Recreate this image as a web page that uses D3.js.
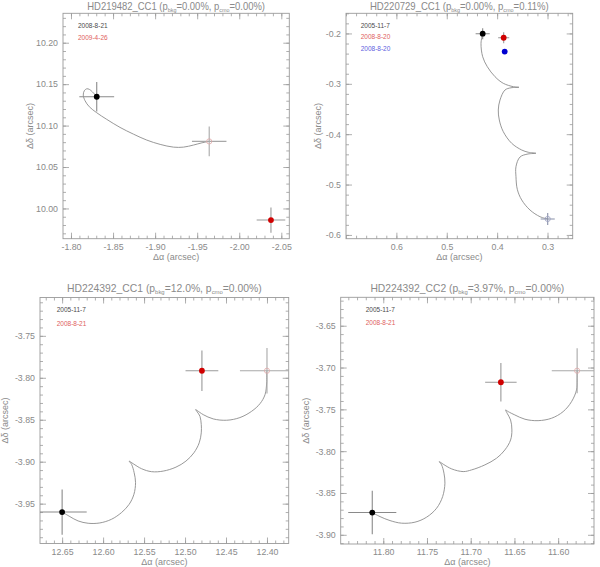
<!DOCTYPE html>
<html><head><meta charset="utf-8">
<script src="https://cdn.jsdelivr.net/npm/d3@7"></script>
<style>body{margin:0;background:#fff}svg{display:block}</style>
</head><body>
<svg id="c" width="600" height="567"></svg>
<script>
// ---------------- DATA ----------------
// Panel 1: HD219482_CC1
const p1Name = "HD219482_CC1", p1Pbkg = "0.00%", p1Pcmo = "0.00%";
const p1Dates = ["2008-8-21", "2009-4-26"];
const p1XTicks = [-1.80, -1.85, -1.90, -1.95, -2.00, -2.05];
const p1XLabels = ["-1.80", "-1.85", "-1.90", "-1.95", "-2.00", "-2.05"];
const p1YTicks = [10.00, 10.05, 10.10, 10.15, 10.20];
const p1YLabels = ["10.00", "10.05", "10.10", "10.15", "10.20"];
const p1Obs = [
  {s: "first",  x: -1.8306, y: 10.1348, ex: 0.0207, ey: 0.0177},
  {s: "pred",   x: -1.9643, y: 10.0809, ex: 0.0205, ey: 0.0180},
  {s: "second", x: -2.0377, y: 9.9860,  ex: 0.0170, ey: 0.0153}
];
const p1Track = [
  [-1.8306,10.1348],[-1.8265,10.1396],[-1.8218,10.1437],[-1.8187,10.1444],[-1.8158,10.1420],
  [-1.8146,10.1368],[-1.8167,10.1300],[-1.8218,10.1227],[-1.8306,10.1155],[-1.8425,10.1075],
  [-1.8583,10.0978],[-1.8742,10.0897],[-1.8901,10.0825],[-1.9060,10.0773],[-1.9218,10.0740],
  [-1.9337,10.0740],[-1.9456,10.0765],[-1.9556,10.0792],[-1.9643,10.0809]
];

// Panel 2: HD220729_CC1
const p2Name = "HD220729_CC1", p2Pbkg = "0.00%", p2Pcmo = "0.11%";
const p2Dates = ["2005-11-7", "2008-8-20", "2008-8-20"];
const p2XTicks = [0.6, 0.5, 0.4, 0.3];
const p2XLabels = ["0.6", "0.5", "0.4", "0.3"];
const p2YTicks = [-0.2, -0.3, -0.4, -0.5, -0.6];
const p2YLabels = ["-0.2", "-0.3", "-0.4", "-0.5", "-0.6"];
const p2Obs = [
  {s: "pred2",  x: 0.2996, y: -0.5683, ex: 0.014, ey: 0.012},
  {s: "first",  x: 0.4287, y: -0.2005, ex: 0.014, ey: 0.011},
  {s: "second", x: 0.3870, y: -0.2085, ex: 0.011, ey: 0.011},
  {s: "third",  x: 0.3850, y: -0.2360, ex: 0,     ey: 0}
];
const p2Track = [
  [0.4287,-0.2005],[0.4320,-0.2196],[0.4287,-0.2462],[0.4195,-0.2660],[0.4042,-0.2859],
  [0.3878,-0.2990],[0.3679,-0.3057],[0.3566,-0.3069],[0.3725,-0.3079],[0.3844,-0.3123],
  [0.3943,-0.3321],[0.3977,-0.3520],[0.3957,-0.3718],[0.3878,-0.3950],[0.3711,-0.4181],
  [0.3512,-0.4314],[0.3381,-0.4359],[0.3229,-0.4379],[0.3387,-0.4393],[0.3546,-0.4453],
  [0.3626,-0.4645],[0.3626,-0.4844],[0.3600,-0.5094],[0.3512,-0.5306],[0.3348,-0.5505],
  [0.3149,-0.5638],[0.2996,-0.5683]
];

// Panel 3: HD224392_CC1
const p3Name = "HD224392_CC1", p3Pbkg = "12.0%", p3Pcmo = "0.00%";
const p3Dates = ["2005-11-7", "2008-8-21"];
const p3XTicks = [12.65, 12.60, 12.55, 12.50, 12.45, 12.40];
const p3XLabels = ["12.65", "12.60", "12.55", "12.50", "12.45", "12.40"];
const p3YTicks = [-3.75, -3.80, -3.85, -3.90, -3.95];
const p3YLabels = ["-3.75", "-3.80", "-3.85", "-3.90", "-3.95"];
const p3Obs = [
  {s: "first",  x: 12.6500, y: -3.9600, ex: 0.030, ey: 0.027},
  {s: "pred",   x: 12.4000, y: -3.7916, ex: 0.033, ey: 0.027},
  {s: "second", x: 12.4794, y: -3.7916, ex: 0.020, ey: 0.024}
];
const p3Track = [
  [12.4004,-3.7924],[12.4004,-3.8062],[12.4024,-3.8201],[12.4085,-3.8308],[12.4187,-3.8399],
  [12.4330,-3.8474],[12.4492,-3.8506],[12.4656,-3.8490],[12.4778,-3.8439],[12.4851,-3.8391],
  [12.4871,-3.8379],[12.4851,-3.8407],[12.4818,-3.8459],[12.4802,-3.8557],[12.4802,-3.8656],
  [12.4827,-3.8775],[12.4892,-3.8894],[12.4989,-3.8993],[12.5111,-3.9065],[12.5266,-3.9112],
  [12.5408,-3.9119],[12.5530,-3.9084],[12.5633,-3.9024],[12.5682,-3.8993],[12.5652,-3.9033],
  [12.5621,-3.9131],[12.5604,-3.9250],[12.5624,-3.9389],[12.5682,-3.9508],[12.5775,-3.9606],
  [12.5897,-3.9686],[12.6040,-3.9730],[12.6182,-3.9734],[12.6305,-3.9706],[12.6406,-3.9654],
  [12.6488,-3.9606]
];

// Panel 4: HD224392_CC2
const p4Name = "HD224392_CC2", p4Pbkg = "3.97%", p4Pcmo = "0.00%";
const p4Dates = ["2005-11-7", "2008-8-21"];
const p4XTicks = [11.80, 11.75, 11.70, 11.65, 11.60];
const p4XLabels = ["11.80", "11.75", "11.70", "11.65", "11.60"];
const p4YTicks = [-3.65, -3.70, -3.75, -3.80, -3.85, -3.90];
const p4YLabels = ["-3.65", "-3.70", "-3.75", "-3.80", "-3.85", "-3.90"];
const p4Obs = [
  {s: "first",  x: 11.8126, y: -3.8734, ex: 0.0275, ey: 0.026},
  {s: "pred",   x: 11.5783, y: -3.7038, ex: 0.029,  ey: 0.027},
  {s: "second", x: 11.6655, y: -3.7176, ex: 0.018,  ey: 0.023}
];
const p4Track = [
  [11.5783,-3.7038],[11.5783,-3.7149],[11.5790,-3.7268],[11.5847,-3.7408],[11.5943,-3.7527],
  [11.6075,-3.7606],[11.6229,-3.7635],[11.6380,-3.7618],[11.6495,-3.7567],[11.6571,-3.7527],
  [11.6601,-3.7507],[11.6583,-3.7547],[11.6544,-3.7627],[11.6529,-3.7746],[11.6544,-3.7866],
  [11.6609,-3.7985],[11.6704,-3.8084],[11.6838,-3.8164],[11.6990,-3.8224],[11.7086,-3.8244],
  [11.7218,-3.8212],[11.7314,-3.8156],[11.7360,-3.8125],[11.7333,-3.8164],[11.7306,-3.8263],
  [11.7295,-3.8383],[11.7321,-3.8543],[11.7390,-3.8682],[11.7504,-3.8789],[11.7638,-3.8849],
  [11.7790,-3.8861],[11.7923,-3.8830],[11.8038,-3.8782],[11.8126,-3.8734]
];

// ---------------- LAYOUT / STYLE ----------------
const FONT = "'Liberation Sans', Arial, sans-serif";
const AXIS_COL = "#9a9a9a", TEXT_COL = "#8a8a8a";
const seriesStyle = {
  first:  {fill: "#000000", stroke: "none", bar: "#8a8a8a", text: "#4a4a4a"},
  second: {fill: "#d00000", stroke: "none", bar: "#9a9a9a", text: "#e06060"},
  third:  {fill: "#0000d0", stroke: "none", bar: "#9a9a9a", text: "#6060e0"},
  pred:   {fill: "none", stroke: "#e0a8a8", bar: "#a8a8a8"},
  pred2:  {fill: "none", stroke: "#9aa0c0", bar: "#8890a8"}
};
const dateSeries = ["first", "second", "third"];

const panels = [
  {name: p1Name, pb: p1Pbkg, pc: p1Pcmo, dates: p1Dates, xt: p1XTicks, xl: p1XLabels, yt: p1YTicks, yl: p1YLabels,
   obs: p1Obs, track: p1Track,
   box: {l: 63, t: 13.3, r: 289.3, b: 238.7}, xd: [-1.7905, -2.0595], yd: [9.9635, 10.2355], minor: 0.01,
   titleY: 10, titleW: 178, leg: {dx: 15, dy: 12.5, sp: 11.7}, yLabX: 30},
  {name: p2Name, pb: p2Pbkg, pc: p2Pcmo, dates: p2Dates, xt: p2XTicks, xl: p2XLabels, yt: p2YTicks, yl: p2YLabels,
   obs: p2Obs, track: p2Track,
   box: {l: 346, t: 13.3, r: 572.7, b: 238.7}, xd: [0.70, 0.25], yd: [-0.6075, -0.16], minor: 0.02,
   titleY: 10, titleW: 179, leg: {dx: 14.7, dy: 12.4, sp: 11.3}, yLabX: 318},
  {name: p3Name, pb: p3Pbkg, pc: p3Pcmo, dates: p3Dates, xt: p3XTicks, xl: p3XLabels, yt: p3YTicks, yl: p3YLabels,
   obs: p3Obs, track: p3Track,
   box: {l: 40, t: 297.5, r: 288.7, b: 543.5}, xd: [12.677, 12.3735], yd: [-3.9975, -3.7043], minor: 0.01,
   titleY: 292, titleW: 195, leg: {dx: 16.7, dy: 12.5, sp: 13.3}, yLabX: 5},
  {name: p4Name, pb: p4Pbkg, pc: p4Pcmo, dates: p4Dates, xt: p4XTicks, xl: p4XLabels, yt: p4YTicks, yl: p4YLabels,
   obs: p4Obs, track: p4Track,
   box: {l: 340.7, t: 297.3, r: 594, b: 544}, xd: [11.8487, 11.559], yd: [-3.911, -3.616], minor: 0.01,
   titleY: 292, titleW: 194, leg: {dx: 25, dy: 12, sp: 13.4}, yLabX: 306}
];

const svg = d3.select("#c");

function minorTicks(dom, step) {
  const lo = Math.min(dom[0], dom[1]), hi = Math.max(dom[0], dom[1]);
  const out = [];
  for (let k = Math.ceil(lo / step - 1e-9); k * step <= hi + 1e-9; k++) out.push(+(k * step).toFixed(6));
  return out;
}

function styleAxis(g) {
  g.select(".domain").remove();
  g.selectAll("line").attr("stroke", AXIS_COL).attr("stroke-width", 0.8);
  g.selectAll("text").attr("fill", TEXT_COL).attr("font-family", FONT).attr("font-size", 8.8);
}

panels.forEach((P, i) => {
  const B = P.box;
  const x = d3.scaleLinear().domain(P.xd).range([B.l, B.r]);
  const y = d3.scaleLinear().domain(P.yd).range([B.b, B.t]);
  const g = svg.append("g");
  const clipId = "clip" + i;
  g.append("clipPath").attr("id", clipId).append("rect")
    .attr("x", B.l).attr("y", B.t).attr("width", B.r - B.l).attr("height", B.b - B.t);

  const mx = minorTicks(P.xd, P.minor), my = minorTicks(P.yd, P.minor);
  const fmtX = d => P.xl[P.xt.findIndex(v => Math.abs(v - d) < 1e-9)];
  const fmtY = d => P.yl[P.yt.findIndex(v => Math.abs(v - d) < 1e-9)];

  // bottom
  g.append("g").attr("transform", `translate(0,${B.b})`)
    .call(d3.axisBottom(x).tickValues(mx).tickSize(-3).tickFormat("")).call(styleAxis);
  g.append("g").attr("transform", `translate(0,${B.b})`)
    .call(d3.axisBottom(x).tickValues(P.xt).tickSize(-6).tickPadding(5).tickFormat(fmtX)).call(styleAxis);
  // top
  g.append("g").attr("transform", `translate(0,${B.t})`)
    .call(d3.axisTop(x).tickValues(mx).tickSize(-3).tickFormat("")).call(styleAxis);
  g.append("g").attr("transform", `translate(0,${B.t})`)
    .call(d3.axisTop(x).tickValues(P.xt).tickSize(-6).tickFormat("")).call(styleAxis);
  // left
  g.append("g").attr("transform", `translate(${B.l},0)`)
    .call(d3.axisLeft(y).tickValues(my).tickSize(-3).tickFormat("")).call(styleAxis);
  g.append("g").attr("transform", `translate(${B.l},0)`)
    .call(d3.axisLeft(y).tickValues(P.yt).tickSize(-6).tickPadding(5).tickFormat(fmtY)).call(styleAxis);
  // right
  g.append("g").attr("transform", `translate(${B.r},0)`)
    .call(d3.axisRight(y).tickValues(my).tickSize(-3).tickFormat("")).call(styleAxis);
  g.append("g").attr("transform", `translate(${B.r},0)`)
    .call(d3.axisRight(y).tickValues(P.yt).tickSize(-6).tickFormat("")).call(styleAxis);

  g.append("rect").attr("x", B.l).attr("y", B.t).attr("width", B.r - B.l).attr("height", B.b - B.t)
    .attr("fill", "none").attr("stroke", AXIS_COL).attr("stroke-width", 0.9);

  // title (measured, then stretched horizontally to the reference width)
  const cx = (B.l + B.r) / 2;
  const tg = g.append("g");
  const t = tg.append("text").attr("x", 0).attr("y", 0).attr("text-anchor", "middle")
    .attr("font-family", FONT).attr("font-size", 10.5).attr("fill", TEXT_COL);
  t.append("tspan").text(P.name + " (p");
  t.append("tspan").attr("font-size", 6).attr("dy", 2).text("bkg");
  t.append("tspan").attr("dy", -2).text("=" + P.pb + ", p");
  t.append("tspan").attr("font-size", 6).attr("dy", 2).text("cmo");
  t.append("tspan").attr("dy", -2).text("=" + P.pc + ")");
  const w = t.node().getBBox().width || P.titleW;
  tg.attr("transform", `translate(${cx},${P.titleY}) scale(${P.titleW / w},1)`);

  // axis labels
  g.append("text").attr("x", cx).attr("y", B.b + 21).attr("text-anchor", "middle")
    .attr("font-family", FONT).attr("font-size", 9).attr("fill", TEXT_COL).text("Δα (arcsec)");
  const cy = (B.t + B.b) / 2;
  g.append("text").attr("transform", `translate(${P.yLabX},${cy}) rotate(-90)`)
    .attr("text-anchor", "middle").attr("dy", "0.35em")
    .attr("font-family", FONT).attr("font-size", 9).attr("fill", TEXT_COL).text("Δδ (arcsec)");

  // legend
  P.dates.forEach((d, k) => {
    g.append("text").attr("x", B.l + P.leg.dx).attr("y", B.t + P.leg.dy + k * P.leg.sp)
      .attr("dy", "0.35em").attr("font-family", FONT).attr("font-size", 6.5)
      .attr("fill", seriesStyle[dateSeries[k]].text).text(d);
  });

  // plot contents
  const pg = g.append("g").attr("clip-path", `url(#${clipId})`);
  const line = d3.line().x(d => x(d[0])).y(d => y(d[1])).curve(d3.curveCatmullRom.alpha(0.5));
  pg.append("path").datum(P.track).attr("d", line)
    .attr("fill", "none").attr("stroke", "#8c8c8c").attr("stroke-width", 0.9);

  P.obs.forEach(o => {
    const st = seriesStyle[o.s];
    if (o.ex > 0) {
      pg.append("line").attr("x1", x(o.x - o.ex)).attr("x2", x(o.x + o.ex))
        .attr("y1", y(o.y)).attr("y2", y(o.y)).attr("stroke", st.bar).attr("stroke-width", 1.1);
      pg.append("line").attr("x1", x(o.x)).attr("x2", x(o.x))
        .attr("y1", y(o.y - o.ey)).attr("y2", y(o.y + o.ey)).attr("stroke", st.bar).attr("stroke-width", 1.1);
    }
    pg.append("circle").attr("cx", x(o.x)).attr("cy", y(o.y))
      .attr("r", st.fill === "none" ? 2.6 : 2.9)
      .attr("fill", st.fill).attr("stroke", st.stroke).attr("stroke-width", 0.8);
  });
});
</script>
</body></html>
